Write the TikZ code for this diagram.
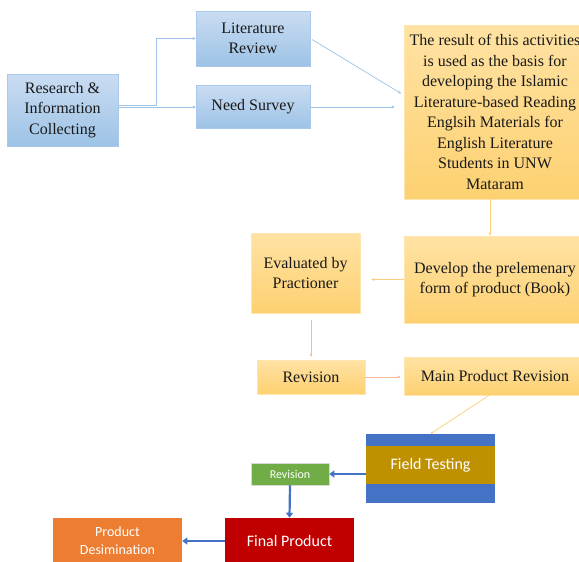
\documentclass[tikz,border=0pt]{standalone}
\usepackage{fontspec}
\setmainfont{Liberation Serif}
\newfontfamily\calib{Carlito}
\usetikzlibrary{arrows.meta}
\definecolor{bluetop}{HTML}{CADCF2}
\definecolor{bluebot}{HTML}{9DC3E6}
\definecolor{blueedge}{HTML}{A9C8EC}
\definecolor{ortop}{HTML}{FFE2A3}
\definecolor{orbot}{HTML}{FDD171}
\definecolor{oredge}{HTML}{FFE6B0}
\definecolor{ftblue}{HTML}{4472C4}
\definecolor{ftgold}{HTML}{BF9000}
\definecolor{grn}{HTML}{70AD47}
\definecolor{dred}{HTML}{C00000}
\definecolor{orng}{HTML}{ED7D31}
\definecolor{lineblue}{HTML}{9DC3E6}
\definecolor{lineor}{HTML}{F9CF7A}
\definecolor{linepink}{HTML}{F6B99A}
\tikzset{
  box/.style={inner sep=0pt, align=center, text=black!90,
    font=\fontsize{16}{20.5}\selectfont},
  bluebox/.style={box, shade, top color=bluetop, bottom color=bluebot, draw=blueedge, line width=0.8pt},
  orbox/.style={box, shade, top color=ortop, bottom color=orbot, draw=oredge, line width=0.8pt},
  solidbox/.style={inner sep=0pt, align=center, text=white, draw=white!85!black, line width=0.5pt},
  thinblue/.style={draw=lineblue, line width=0.7pt, -{Stealth[length=3pt,width=3pt]}},
  thinor/.style={draw=lineor, line width=0.7pt, -{Stealth[length=3pt,width=3pt]}},
  thickblue/.style={draw=ftblue, line width=2.2pt, -{Triangle[length=5pt,width=7pt]}},
}
\begin{document}
\begin{tikzpicture}[x=1pt,y=-1pt]
\clip (0,0) rectangle (579,562);
\fill[white] (0,0) rectangle (579,562);
% top blue boxes
\node[bluebox, minimum width=111pt, minimum height=72pt] (research) at (62.5,110) {Research \&\\Information\\Collecting};
\node[bluebox, minimum width=114pt, minimum height=55pt] (litrev) at (253,38.5) {Literature\\Review};
\node[bluebox, minimum width=114pt, minimum height=43pt] (need) at (253,107) {Need Survey};
% orange boxes
\node[orbox, minimum width=182pt, minimum height=174pt] (result) at (495,112) {The result of this activities\\is used as the basis for\\developing the Islamic\\Literature-based Reading\\Englsih Materials for\\English Literature\\Students in UNW\\Mataram};
\node[orbox, minimum width=182pt, minimum height=87pt] (develop) at (495,279.5) {Develop the prelemenary\\form of product (Book)};
\node[orbox, minimum width=109pt, minimum height=80pt] (eval) at (305.5,273) {Evaluated by\\Practioner};
\node[orbox, minimum width=108pt, minimum height=34pt] (rev1) at (311,377) {Revision};
\node[orbox, minimum width=182pt, minimum height=38pt] (main) at (495,376) {Main Product Revision};
% field testing
\node[solidbox, fill=ftgold, draw=none, minimum width=129pt, minimum height=38pt, font=\calib\fontsize{16}{19}\selectfont] (field) at (430.5,465) {Field Testing};
\fill[ftblue] ([yshift=12pt]field.north west) rectangle (field.north east);
\fill[ftblue] (field.south west) rectangle ([yshift=-19pt]field.south east);
\coordinate (fieldtop) at ([yshift=12pt]field.north);
% bottom boxes
\node[solidbox, fill=grn, minimum width=78pt, minimum height=22pt, font=\calib\fontsize{12}{14}\selectfont] (rev2) at (290,474) {Revision};
\node[solidbox, fill=dred, draw=none, minimum width=129pt, minimum height=46pt, font=\calib\fontsize{16}{19}\selectfont] (final) at (289.5,541) {Final Product};
\node[solidbox, fill=orng, draw=none, minimum width=129pt, minimum height=46pt, font=\calib\fontsize{14}{18}\selectfont] (prod) at (117.5,541) {Product\\Desimination};
% connectors
\draw[thinblue] ([yshift=2pt]research.east |- need) -- ++(38,0) |- (litrev.west);
\draw[thinblue] (research.east |- need) -- (need.west);
\draw[thinblue, shorten <=2pt, shorten >=3pt] (litrev.east) -- ([yshift=17pt]result.west);
\draw[thinblue, shorten >=9pt] (need.east) -- (need.east -| result.west);
\draw[thinor] ([xshift=-5pt]result.south) -- ([xshift=-5pt]develop.north);
\draw[thinor, shorten >=11pt] (develop.west) -- (develop.west -| eval.east);
\draw[draw=linepink, line width=0.7pt, -{Stealth[length=3pt,width=3pt]}, shorten <=7pt, shorten >=3pt] (rev1.north |- eval.south) -- (rev1.north);
\draw[draw=linepink, line width=0.9pt, -{Stealth[length=3pt,width=3pt]}, shorten >=3pt] (rev1.east) -- (rev1.east -| main.west);
\draw[thinor] ([xshift=-6pt]main.south) -- (fieldtop);
\draw[thickblue] (field.west |- rev2) -- (rev2.east);
\draw[thickblue] (rev2.south) -- (final.north);
\draw[thickblue] (final.west) -- (prod.east);
\end{tikzpicture}
\end{document}
